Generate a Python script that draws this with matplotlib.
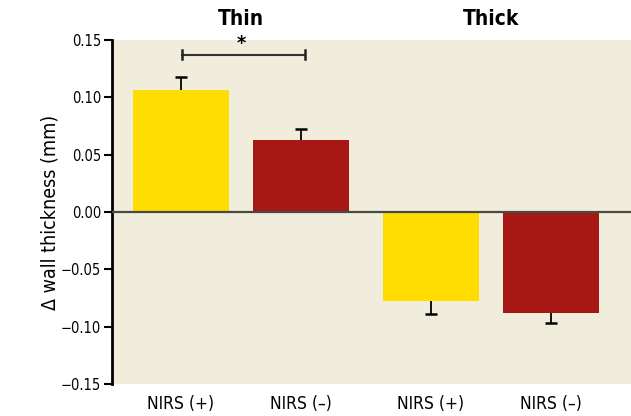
import numpy as np
import matplotlib
matplotlib.use("Agg")
import matplotlib.pyplot as plt

plt.rcParams["font.family"] = ["DejaVu Sans"]
plt.rcParams["font.stretch"] = "condensed"

groups = ["Thin", "Thick"]
labels = ["NIRS (+)", "NIRS (\u2013)", "NIRS (+)", "NIRS (\u2013)"]
means = [0.1065, 0.063, -0.078, -0.0885]
sems = [0.011, 0.009, 0.011, 0.008]
colors = ["#FFDD00", "#A71815", "#FFDD00", "#A71815"]
yticks = [-0.15, -0.10, -0.05, 0.00, 0.05, 0.10, 0.15]

x = np.array([0, 1, 2.08, 3.08])

fig = plt.figure(figsize=(6.31, 4.16), dpi=100)
ax = fig.add_axes([0.1775, 0.077, 0.8225, 0.827])
ax.set_facecolor("#F1EDDC")

ax.bar(x, means, width=0.8, color=colors, zorder=2)

# one-sided error bars pointing away from zero
tips = [m + s if m > 0 else m - s for m, s in zip(means, sems)]
ax.vlines(x, means, tips, color="black", lw=1.3, zorder=3)
ax.plot(x, tips, ls="none", marker="_", markersize=8, mew=1.8, color="black", zorder=3)

ax.axhline(0, color="#4a4a44", lw=1.6, zorder=4)

ax.set_xlim(-0.575, 3.75)
ax.set_ylim(-0.15, 0.15)
ax.set_yticks(yticks)
ax.set_yticklabels([f"{t:.2f}".replace("-", "\u2212") for t in yticks], fontsize=10.5)
ax.set_xticks(x)
ax.set_xticklabels(labels, fontsize=12.5)
ax.tick_params(axis="x", length=0, pad=8)
ax.tick_params(axis="y", length=6, width=1.5, direction="out", pad=2)

for side in ["top", "right", "bottom"]:
    ax.spines[side].set_visible(False)
ax.spines["left"].set_linewidth(2)

ax.set_ylabel("\u0394 wall thickness (mm)", fontsize=14, labelpad=1)

# group titles
for g, xc in zip(groups, [(x[0] + x[1]) / 2, (x[2] + x[3]) / 2]):
    ax.text(xc, 1.06, g, transform=ax.get_xaxis_transform(), ha="center",
            va="center", fontsize=15, fontweight="bold")

# significance bracket
by = 0.137
ax.plot([x[0] + 0.01, x[1] + 0.03], [by, by], color="#333333", lw=1.5, zorder=3)
for xb in [x[0] + 0.01, x[1] + 0.03]:
    ax.plot([xb, xb], [by - 0.004, by + 0.004], color="#222222", lw=1.8, zorder=3)
ax.text((x[0] + x[1]) / 2, by + 0.002, "*", ha="center", va="bottom",
        fontsize=14, fontweight="bold")

fig.savefig("out.png", dpi=100)
